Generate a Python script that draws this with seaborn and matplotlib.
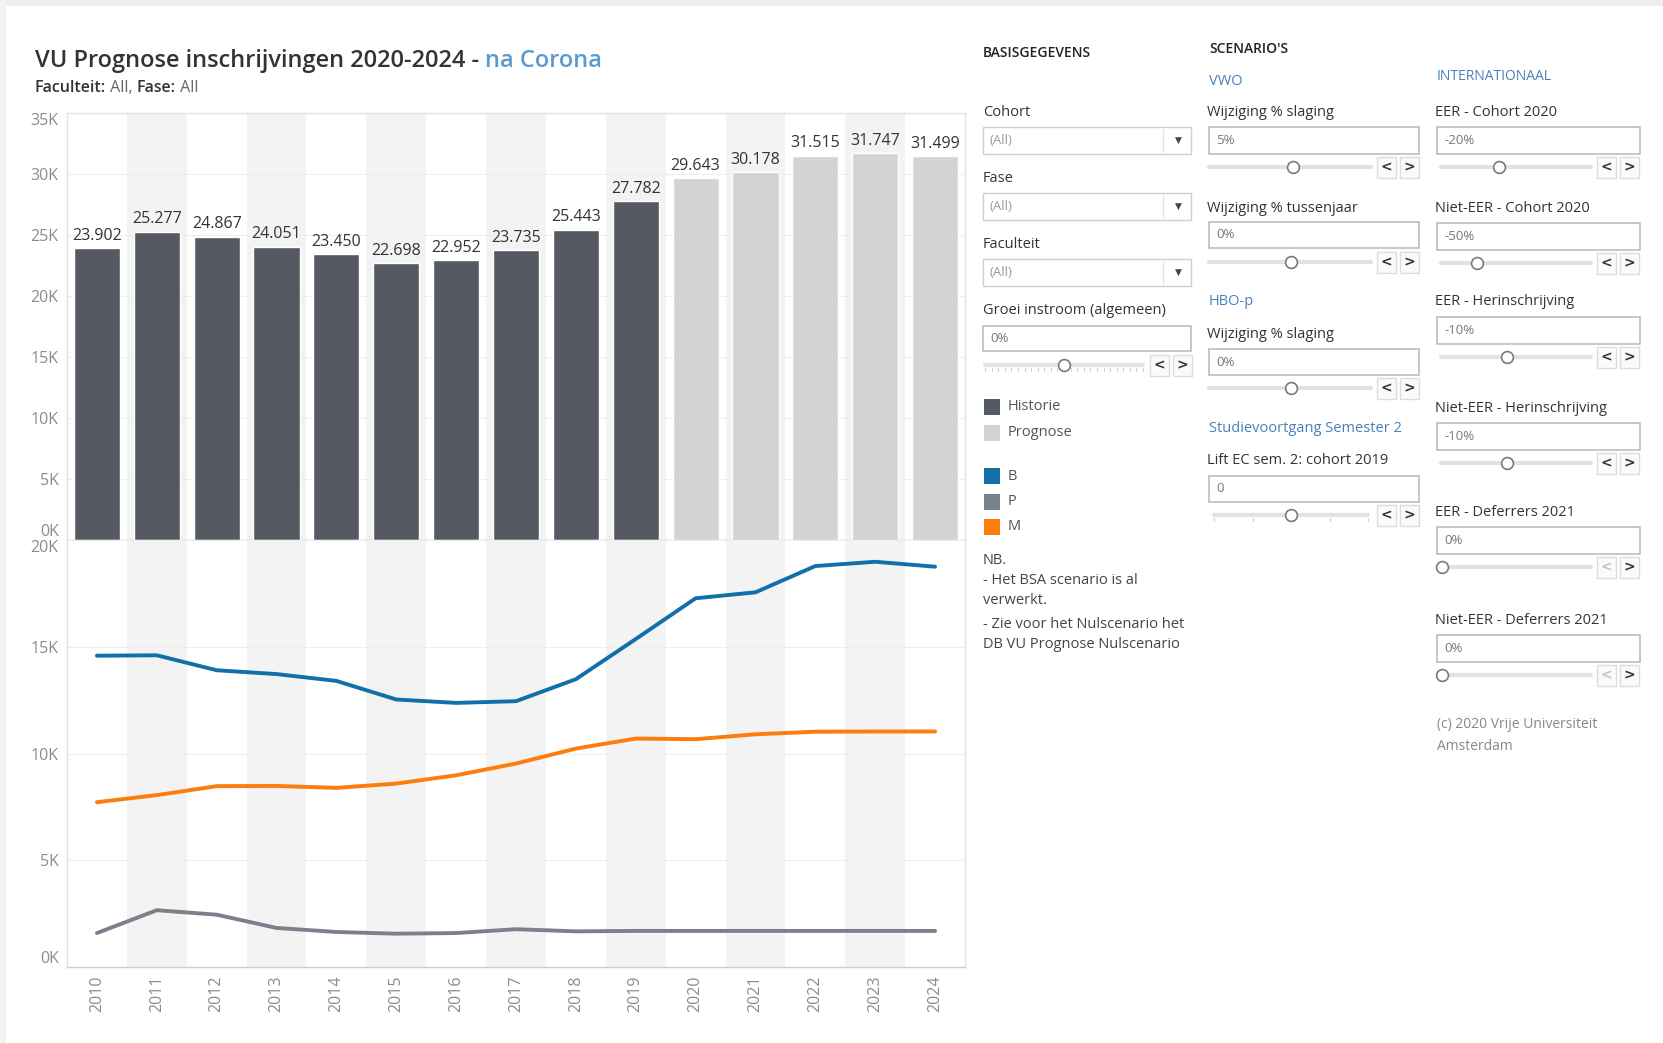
import pandas as pd
import matplotlib.pyplot as plt
import seaborn as sns
from matplotlib.patches import Rectangle
from matplotlib.lines import Line2D
from matplotlib.ticker import FuncFormatter

# data
years = list(range(2010, 2025))
totals = [23902, 25277, 24867, 24051, 23450, 22698, 22952, 23735,
          25443, 27782, 29643, 30178, 31515, 31747, 31499]
phase = ["Historie"] * 10 + ["Prognose"] * 5
b_vals = [14580, 14600, 13900, 13720, 13400, 12530, 12370, 12450,
          13480, 15360, 17270, 17550, 18780, 18980, 18750]
p_vals = [1590, 2660, 2450, 1830, 1640, 1560, 1590, 1770,
          1670, 1690, 1690, 1690, 1690, 1690, 1690]
m_vals = [7720, 8050, 8470, 8480, 8390, 8590, 8980, 9530,
          10230, 10700, 10670, 10900, 11020, 11030, 11030]

bar_colors = {"Historie": "#555a62", "Prognose": "#d3d3d3"}
line_colors = {"B": "#1170aa", "P": "#7b818a", "M": "#fc7d0b"}

W, H = 1663, 1043

sns.set_style("white")
plt.rcParams["font.family"] = ["Open Sans", "DejaVu Sans"]

fig = plt.figure(figsize=(W / 100, H / 100), dpi=100)


def fx(x):
    return x / W


def fy(y):
    return 1 - y / H


def txt(x, y, s, size=10.5, color="#333333", **kw):
    kw.setdefault("va", "center")
    return fig.text(fx(x), fy(y), s, fontsize=size, color=color, **kw)


def rect(x, y, w, h, ec="#c8c8c8", fc="white", lw=1.0):
    fig.add_artist(Rectangle((fx(x), fy(y + h)), w / W, h / H,
                             transform=fig.transFigure, ec=ec, fc=fc, lw=lw))


def hline(x0, x1, y, color="#e2e2e2", lw=3.0):
    fig.add_artist(Line2D([fx(x0), fx(x1)], [fy(y), fy(y)],
                          transform=fig.transFigure, color=color, lw=lw,
                          solid_capstyle="round"))


def chain(x, y, parts, size):
    # place text pieces one after another
    r = fig.canvas.get_renderer()
    for s, color, weight in parts:
        t = txt(x, y, s, size=size, color=color, fontweight=weight)
        bb = t.get_window_extent(renderer=r)
        x = x + bb.width


# light frame at the top/left
rect(0, 0, W, 6, ec="none", fc="#eeeeee")
rect(0, 0, 6, H, ec="none", fc="#f3f3f3")

# ---- title
chain(35, 61, [("VU Prognose inschrijvingen 2020-2024 - ", "#333333", "semibold"),
               ("na Corona", "#5b9bd0", "semibold")], 17)
chain(35, 88, [("Faculteit:", "#333333", "semibold"), (" All, ", "#666666", "normal"),
               ("Fase:", "#333333", "semibold"), (" All", "#666666", "normal")], 11.5)

# ---- bar chart
ax1 = fig.add_axes([fx(67), fy(540), (965 - 67) / W, (540 - 113) / H])
ax2 = fig.add_axes([fx(67), fy(967), (965 - 67) / W, (967 - 540) / H])

for ax in (ax1, ax2):
    for yr in years[1::2]:
        ax.axvspan(yr - 0.5, yr + 0.5, color="#f3f3f3", lw=0, zorder=0)

bars = pd.DataFrame({"jaar": years, "totaal": totals, "type": phase})
sns.barplot(data=bars, x="jaar", y="totaal", hue="type", palette=bar_colors,
            native_scale=True, dodge=False, width=0.77, saturation=1,
            legend=False, ax=ax1)
for c in ax1.containers:
    labels = [f"{v:,.0f}".replace(",", ".") if v == v and v > 0 else "" for v in c.datavalues]
    ax1.bar_label(c, labels=labels, padding=3, fontsize=11.5, color="#333333")

lines = pd.DataFrame({
    "jaar": years * 3,
    "aantal": b_vals + p_vals + m_vals,
    "graad": ["B"] * 15 + ["P"] * 15 + ["M"] * 15,
})
sns.lineplot(data=lines, x="jaar", y="aantal", hue="graad", palette=line_colors,
             lw=2.8, legend=False, ax=ax2)

kfmt = FuncFormatter(lambda v, p: f"{int(round(v / 1000))}K")
for ax, top in ((ax1, 35000), (ax2, 20000)):
    ax.set_xlim(2009.5, 2024.5)
    ax.set_ylim(0, top)
    ax.set_yticks(range(0, top + 1, 5000))
    ax.yaxis.set_major_formatter(kfmt)
    ax.yaxis.grid(True, color="#eeeeee", lw=0.8)
    ax.set_axisbelow(True)
    ax.set_xlabel("")
    ax.set_ylabel("")
    ax.tick_params(axis="y", length=0, pad=6, labelsize=11.5, labelcolor="#8c8c8c")
    for s in ax.spines.values():
        s.set_color("#e3e3e3")
        s.set_linewidth(1)
    ticks = ax.yaxis.get_major_ticks()
    ticks[0].label1.set_va("bottom")
    ticks[-1].label1.set_va("top")

ax1.set_xticks(years)
ax1.tick_params(axis="x", length=0, labelbottom=False)
ax1.spines["bottom"].set_color("#c9c9c9")
ax2.spines["top"].set_visible(False)
ax2.spines["bottom"].set_color("#cfcfcf")
ax2.set_xticks(years)
ax2.set_xticklabels([str(y) for y in years], rotation=90)
ax2.tick_params(axis="x", length=0, pad=6, labelsize=11.5, labelcolor="#8c8c8c")

# ---- control panel
BLUE = "#4a80b8"


def dropdown(x, y, w=208, h=27):
    rect(x, y, w, h, ec="#cfcfcf")
    txt(x + 6, y + h / 2, "(All)", size=9.5, color="#9a9a9a")
    fig.add_artist(Line2D([fx(x + w - 28)] * 2, [fy(y + 2), fy(y + h - 2)],
                          transform=fig.transFigure, color="#e4e4e4", lw=1))
    txt(x + w - 13, y + h / 2, "▼", size=6.5, color="#444444", ha="center",
        family="DejaVu Sans")


def textbox(x, y, s, w, h=26):
    rect(x, y, w, h, ec="#bdbdbd", lw=1.2)
    txt(x + 7, y + h / 2, s, size=9.5, color="#777777")


def slider(x0, x1, y, knob, bx, ticks=0, left_off=False):
    hline(x0, x1, y)
    if ticks:
        step = (x1 - x0) / ticks
        for i in range(ticks + 1):
            xx = x0 + i * step
            fig.add_artist(Line2D([fx(xx)] * 2, [fy(y + 3), fy(y + 6)],
                                  transform=fig.transFigure, color="#cfcfcf", lw=0.8))
    fig.add_artist(Line2D([fx(knob)], [fy(y)], marker="o", ms=8.5, mfc="white",
                          mec="#7a7a7a", mew=1.2, transform=fig.transFigure))
    for i, ch in enumerate(["<", ">"]):
        xb = bx + i * 23
        rect(xb, y - 10, 19, 21, ec="#dcdcdc", fc="#fafafa")
        col = "#c4c4c4" if (left_off and i == 0) else "#333333"
        txt(xb + 9.5, y, ch, size=10, color=col, ha="center", fontweight="bold",
            family="DejaVu Sans")


# column 1 - basisgegevens
txt(983, 53, "BASISGEGEVENS", size=10, color="#222222", fontweight="semibold")
for label, y in (("Cohort", 112), ("Fase", 178), ("Faculteit", 244)):
    txt(983, y, label, size=10.5)
    dropdown(983, y + 15)
txt(983, 310, "Groei instroom (algemeen)", size=10.5)
textbox(983, 326, "0%", 208, 25)
slider(985, 1143, 365, 1064, 1150, ticks=24)

legend_items = [("Historie", bar_colors["Historie"], 407), ("Prognose", bar_colors["Prognose"], 433),
                ("B", line_colors["B"], 476), ("P", line_colors["P"], 502), ("M", line_colors["M"], 527)]
for name, col, y in legend_items:
    rect(984, y - 8, 16, 16, ec="none", fc=col)
    txt(1008, y, name, size=10.5, color="#555555")

for s, y in (("NB.", 560), ("- Het BSA scenario is al", 581), ("verwerkt.", 601),
             ("- Zie voor het Nulscenario het", 624), ("DB VU Prognose Nulscenario", 644)):
    txt(983, y, s, size=10.5, color="#444444")

# column 2 - scenario's
txt(1209, 49, "SCENARIO'S", size=10, color="#222222", fontweight="semibold")
txt(1209, 81, "VWO", size=10.5, color=BLUE)
txt(1207, 112, "Wijziging % slaging", size=10.5)
textbox(1209, 127, "5%", 210, 27)
slider(1209, 1371, 167, 1293, 1377)
txt(1207, 208, "Wijziging % tussenjaar", size=10.5)
textbox(1209, 222, "0%", 210, 26)
slider(1209, 1371, 262, 1291, 1377)
txt(1209, 302, "HBO-p", size=10.5, color=BLUE)
txt(1207, 334, "Wijziging % slaging", size=10.5)
textbox(1209, 349, "0%", 210, 26)
slider(1209, 1371, 388, 1291, 1377)
txt(1209, 428, "Studievoortgang Semester 2", size=10.5, color=BLUE)
txt(1207, 460, "Lift EC sem. 2: cohort 2019", size=10.5)
textbox(1209, 476, "0", 210, 26)
slider(1214, 1368, 515, 1291, 1377, ticks=4)

# column 3 - internationaal
txt(1437, 76, "INTERNATIONAAL", size=10, color=BLUE)
intl = [("EER - Cohort 2020", 112, "-20%", 1499, False),
        ("Niet-EER - Cohort 2020", 208, "-50%", 1477, False),
        ("EER - Herinschrijving", 302, "-10%", 1507, False),
        ("Niet-EER - Herinschrijving", 408, "-10%", 1507, False),
        ("EER - Deferrers 2021", 512, "0%", 1442, True),
        ("Niet-EER - Deferrers 2021", 620, "0%", 1442, True)]
for label, y, val, knob, off in intl:
    txt(1435, y, label, size=10.5)
    textbox(1437, y + 15, val, 203, 27)
    slider(1441, 1591, y + 55, knob, 1597, left_off=off)

txt(1437, 725, "(c) 2020 Vrije Universiteit", size=10, color="#888888")
txt(1437, 747, "Amsterdam", size=10, color="#888888")

plt.savefig("out.png", dpi=100)
